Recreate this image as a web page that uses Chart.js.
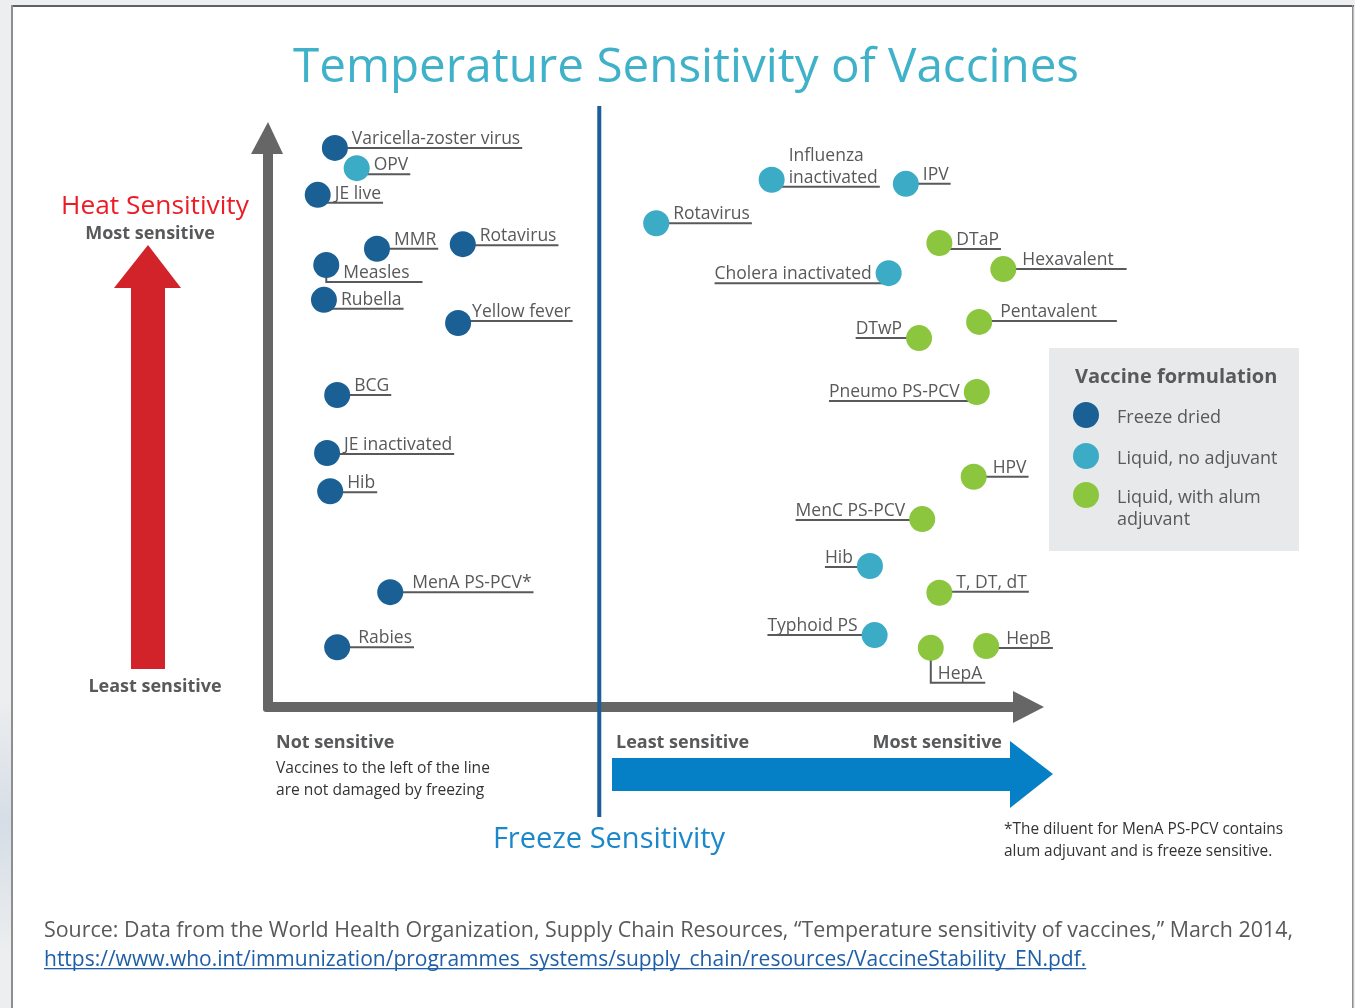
<!DOCTYPE html>
<html>
<head>
<meta charset="utf-8">
<title>Temperature Sensitivity of Vaccines</title>
<script src="https://cdn.jsdelivr.net/npm/chart.js@4.4.1/dist/chart.umd.min.js"></script>
<style>
  html, body { margin: 0; padding: 0; background: #eceeef; }
  #wrap { width: 1355px; height: 1008px; }
</style>
</head>
<body>
<div id="wrap"><canvas id="myChart" width="1355" height="1008"></canvas></div>
<script>
const vaccines = ['Varicella-zoster virus', 'OPV', 'JE live', 'MMR', 'Rotavirus', 'Measles', 'Rubella',
  'Yellow fever', 'BCG', 'JE inactivated', 'Hib', 'MenA PS-PCV*', 'Rabies',
  'Influenza inactivated', 'IPV', 'Rotavirus', 'DTaP', 'Hexavalent', 'Cholera inactivated',
  'Pentavalent', 'DTwP', 'Pneumo PS-PCV', 'HPV', 'MenC PS-PCV', 'Hib', 'T, DT, dT',
  'Typhoid PS', 'HepA', 'HepB'];

const formulation = ['Freeze dried', 'Liquid, no adjuvant', 'Freeze dried', 'Freeze dried', 'Freeze dried',
  'Freeze dried', 'Freeze dried', 'Freeze dried', 'Freeze dried', 'Freeze dried', 'Freeze dried',
  'Freeze dried', 'Freeze dried',
  'Liquid, no adjuvant', 'Liquid, no adjuvant', 'Liquid, no adjuvant', 'Liquid, with alum adjuvant',
  'Liquid, with alum adjuvant', 'Liquid, no adjuvant', 'Liquid, with alum adjuvant',
  'Liquid, with alum adjuvant', 'Liquid, with alum adjuvant', 'Liquid, with alum adjuvant',
  'Liquid, with alum adjuvant', 'Liquid, no adjuvant', 'Liquid, with alum adjuvant',
  'Liquid, no adjuvant', 'Liquid, with alum adjuvant', 'Liquid, with alum adjuvant'];

// freeze sensitivity (x) and heat sensitivity (y), 0-100
const freezeSensitivity = [8.7, 11.5, 6.5, 14.1, 25.1, 7.6, 7.3, 24.5, 9.0, 7.7, 8.1, 15.8, 9.0,
  64.7, 81.9, 49.9, 86.2, 94.4, 79.7, 91.3, 83.6, 91.0, 90.6, 84.0, 77.3, 86.2, 77.9, 85.1, 92.2];
const heatSensitivity = [96.4, 92.9, 88.3, 79.0, 79.8, 76.2, 70.2, 66.2, 53.8, 43.8, 37.2, 19.8, 10.3,
  90.9, 90.2, 83.4, 80.0, 75.5, 74.8, 66.4, 63.6, 54.3, 39.7, 32.4, 24.3, 19.7, 12.4, 10.2, 10.5];

const formulations = ['Freeze dried', 'Liquid, no adjuvant', 'Liquid, with alum adjuvant'];
const formulationColors = ['#1b6095', '#3babc6', '#8cc63f'];
const freezeThreshold = 42.6;

// where each name tag sits relative to its dot
const labelLayout = [
  {}, { dy: 6 }, { dy: 8 }, {}, { dy: 1 }, { elbow: 17, tail: 10 }, { dy: 9 },
  { dy: -2, gap: 14 }, {}, { dy: 1 }, { dy: 1 }, { gap: 22 }, { gap: 21 },
  { dy: 7, lines: ['Influenza', 'inactivated'] }, {}, {}, { dy: 6 }, { tail: 11, gap: 19 },
  { left: true, dy: 10 }, { dy: -1, tail: 18, gap: 21 }, { left: true }, { left: true, dy: 9 },
  { gap: 19 }, { left: true, dy: 1 }, { left: true, dy: 1 }, { dy: -1 },
  { left: true }, { elbow: 35, gap: 7 }, { dy: 2, gap: 20 }
];

const GRAY = '#58595b';
const FONT = '"Open Sans", "Noto Sans", sans-serif';
const LABEL_FONT = '17.5px ' + FONT;

function txt(c, s, x, y, font, color, align) {
  c.font = font;
  c.fillStyle = color;
  c.textAlign = align || 'left';
  c.textBaseline = 'alphabetic';
  c.fillText(s, x, y);
}

function wrap(c, s, maxW) {
  const words = s.split(' ');
  const out = [];
  let line = '';
  words.forEach((w) => {
    const t = line ? line + ' ' + w : w;
    if (line && c.measureText(t).width > maxW) { out.push(line); line = w; } else { line = t; }
  });
  out.push(line);
  return out;
}

const decor = {
  id: 'decor',
  beforeDraw(chart) {
    const c = chart.ctx;
    const a = chart.chartArea;
    const W = chart.width, H = chart.height;
    c.save();
    // page
    c.fillStyle = '#eceeef';
    c.fillRect(0, 0, W, H);
    const g = c.createLinearGradient(0, 700, 0, 950);
    g.addColorStop(0, '#eceeef');
    g.addColorStop(0.5, '#d6dde6');
    g.addColorStop(1, '#eceeef');
    c.fillStyle = g;
    c.fillRect(0, 700, 11, 250);
    c.fillStyle = '#ffffff';
    c.fillRect(13, 7, 1340, H - 7);
    c.fillStyle = '#5f6061';
    c.fillRect(11, 5, 1343, 2);
    c.fillStyle = '#8d8e8f';
    c.fillRect(11, 5, 2, H - 5);
    c.fillRect(1352, 5, 1.5, H - 5);

    // title
    txt(c, 'Temperature Sensitivity of Vaccines', 686, 82, '47.6px ' + FONT, '#3fb1c9', 'center');

    // heat side
    txt(c, 'Heat Sensitivity', 155, 214, '26.3px ' + FONT, '#ed1c24', 'center');
    txt(c, 'Most sensitive', 150, 239, 'bold 18px ' + FONT, GRAY, 'center');
    txt(c, 'Least sensitive', 155, 692, 'bold 18px ' + FONT, GRAY, 'center');
    c.fillStyle = '#d2232a';
    c.fillRect(131, 286, 34, 383);
    c.beginPath();
    c.moveTo(114, 288); c.lineTo(148, 245); c.lineTo(181, 288); c.closePath();
    c.fill();

    // axes
    c.fillStyle = '#666666';
    c.beginPath();
    c.moveTo(a.left - 4, a.top + 26);
    c.lineTo(a.left + 6, a.top + 26);
    c.lineTo(a.left + 6, a.bottom - 5);
    c.lineTo(a.right - 33, a.bottom - 5);
    c.lineTo(a.right - 33, a.bottom + 5);
    c.lineTo(a.left - 1, a.bottom + 5);
    c.quadraticCurveTo(a.left - 4, a.bottom + 5, a.left - 4, a.bottom + 2);
    c.closePath();
    c.fill();
    c.beginPath();
    c.moveTo(a.left - 16, a.top + 27); c.lineTo(a.left + 1, a.top - 5); c.lineTo(a.left + 16, a.top + 27);
    c.closePath();
    c.fill();
    c.beginPath();
    c.moveTo(a.right - 34, a.bottom - 16); c.lineTo(a.right - 3, a.bottom); c.lineTo(a.right - 34, a.bottom + 16);
    c.closePath();
    c.fill();

    // freeze threshold line
    const tx = chart.scales.x.getPixelForValue(freezeThreshold);
    c.fillStyle = '#1d5e99';
    c.fillRect(tx - 2, 106, 4, 711);

    // freeze side
    txt(c, 'Not sensitive', 276, 748, 'bold 18px ' + FONT, GRAY);
    txt(c, 'Vaccines to the left of the line', 276, 773, '15.6px ' + FONT, '#333333');
    txt(c, 'are not damaged by freezing', 276, 795, '15.6px ' + FONT, '#333333');
    txt(c, 'Least sensitive', 616, 748, 'bold 18px ' + FONT, GRAY);
    txt(c, 'Most sensitive', 1002, 748, 'bold 18px ' + FONT, GRAY, 'right');
    c.fillStyle = '#0580c7';
    c.fillRect(612, 758, 400, 33);
    c.beginPath();
    c.moveTo(1010, 741); c.lineTo(1053, 774); c.lineTo(1010, 808); c.closePath();
    c.fill();
    txt(c, 'Freeze Sensitivity', 609, 848, '29px ' + FONT, '#1a88c9', 'center');
    txt(c, '*The diluent for MenA PS-PCV contains', 1004, 834, '15.4px ' + FONT, '#333333');
    txt(c, 'alum adjuvant and is freeze sensitive.', 1004, 856, '15.4px ' + FONT, '#333333');

    // source
    txt(c, 'Source: Data from the World Health Organization, Supply Chain Resources, \u201cTemperature sensitivity of vaccines,\u201d March 2014,',
      44, 937, '21.4px ' + FONT, GRAY);
    const link = 'https://www.who.int/immunization/programmes_systems/supply_chain/resources/VaccineStability_EN.pdf.';
    txt(c, link, 44, 966, '21px ' + FONT, '#1f5fa8');
    const lw = c.measureText(link).width;
    c.fillStyle = '#1f5fa8';
    c.fillRect(44, 968, lw, 1.3);

    // legend box
    c.fillStyle = '#e8e9eb';
    c.fillRect(1049, 348, 250, 203);
    txt(c, 'Vaccine formulation', 1075, 383, 'bold 20px ' + FONT, GRAY);
    const rows = [415, 456, 495];
    chart.data.datasets.forEach((ds, k) => {
      c.fillStyle = ds.backgroundColor;
      c.beginPath();
      c.arc(1086, rows[k], 13, 0, Math.PI * 2);
      c.fill();
      c.font = '18px ' + FONT;
      wrap(c, ds.label, 172).forEach((ln, j) => {
        txt(c, ln, 1117, rows[k] + 8 + j * 22, '18px ' + FONT, GRAY);
      });
    });
    c.restore();
  },
  beforeDatasetsDraw(chart) {
    const c = chart.ctx;
    const sx = chart.scales.x, sy = chart.scales.y;
    c.save();
    c.strokeStyle = GRAY;
    c.lineWidth = 2;
    vaccines.forEach((name, i) => {
      const L = labelLayout[i];
      const cx = sx.getPixelForValue(freezeSensitivity[i]);
      const cy = sy.getPixelForValue(heatSensitivity[i]);
      const lines = L.lines || [name];
      c.font = LABEL_FONT;
      const w = Math.max(...lines.map((s) => c.measureText(s).width));
      const gap = L.gap || 17;
      const tail = L.tail || 0;
      c.beginPath();
      let uy;
      if (L.elbow) {
        uy = cy + L.elbow;
        c.moveTo(cx, cy);
        c.lineTo(cx, uy);
        c.lineTo(cx + gap + w + 3 + tail, uy);
      } else if (L.left) {
        uy = cy + (L.dy || 0);
        c.moveTo(cx - gap - w, uy);
        c.lineTo(cx, uy);
      } else {
        uy = cy + (L.dy || 0);
        c.moveTo(cx, uy);
        c.lineTo(cx + gap + w + 2 + tail, uy);
      }
      c.stroke();
      lines.forEach((s, j) => {
        const by = uy - 4 - (lines.length - 1 - j) * 22;
        if (L.left) txt(c, s, cx - gap, by, LABEL_FONT, GRAY, 'right');
        else txt(c, s, cx + gap, by, LABEL_FONT, GRAY);
      });
    });
    c.restore();
  }
};

const ctx = document.getElementById('myChart');

new Chart(ctx, {
  type: 'scatter',
  data: {
    datasets: formulations.map((f, k) => ({
      label: f,
      data: vaccines
        .map((v, i) => ({ x: freezeSensitivity[i], y: heatSensitivity[i], name: v, f: formulation[i] }))
        .filter((p) => p.f === f),
      backgroundColor: formulationColors[k],
      pointRadius: 13,
      pointHoverRadius: 13,
      pointBorderWidth: 0,
      borderWidth: 0,
      clip: false
    }))
  },
  options: {
    responsive: false,
    animation: false,
    events: [],
    layout: { padding: { left: 267, right: 308, top: 127, bottom: 301 } },
    scales: {
      x: { display: false, min: 0, max: 100 },
      y: { display: false, min: 0, max: 100 }
    },
    plugins: {
      legend: { display: false },
      tooltip: { enabled: false }
    }
  },
  plugins: [decor]
});
</script>
</body>
</html>
